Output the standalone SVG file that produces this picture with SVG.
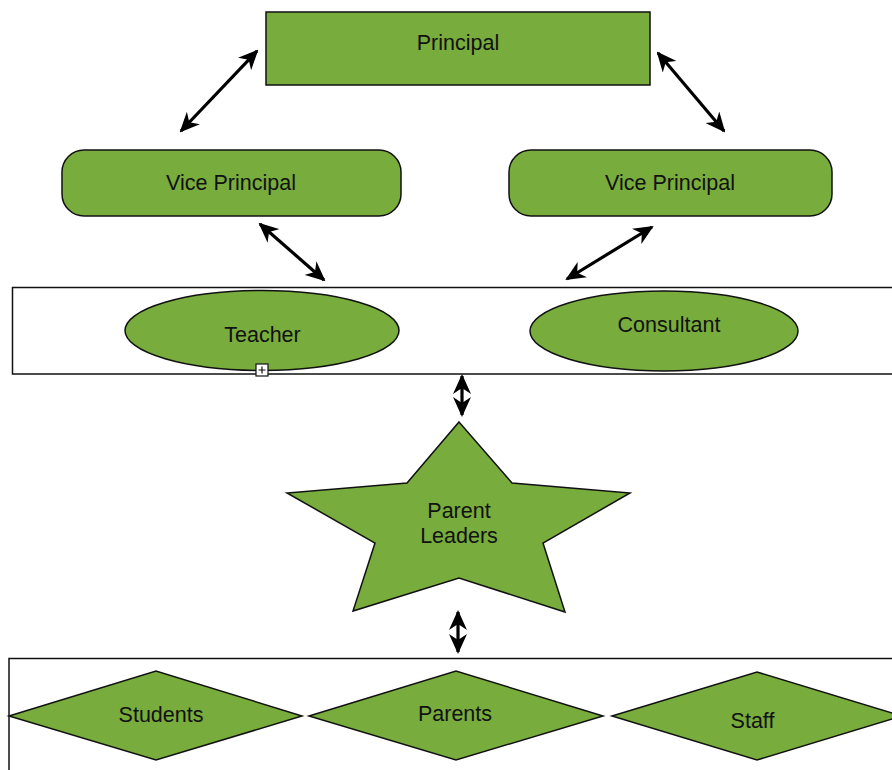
<svg xmlns="http://www.w3.org/2000/svg" width="892" height="770" viewBox="0 0 892 770">
<defs>
<style>
.shape{fill:#78ac3c;stroke:#111;stroke-width:1.5}
.box{fill:#fff;stroke:#111;stroke-width:1.5}
.lbl{font-family:"Liberation Sans",Arial,sans-serif;font-size:21.5px;fill:#111;text-anchor:middle}
.conn{stroke:#000;stroke-width:3.2;fill:none;marker-start:url(#ah);marker-end:url(#ah)}
</style>
<marker id="ah" viewBox="0 0 20 18" refX="18" refY="9" markerWidth="20" markerHeight="18" markerUnits="userSpaceOnUse" orient="auto-start-reverse">
<path d="M0,0 L20,9 L0,18 L6,9 Z" fill="#000"/>
</marker>
</defs>
<rect width="892" height="770" fill="#fff"/>
<g id="containers">
<rect id="row1" class="box" x="12.5" y="287.5" width="890" height="86.5"/>
<rect id="row3" class="box" x="9" y="658.5" width="895" height="130"/>
</g>
<g id="principal">
<rect class="shape" x="266" y="12" width="384" height="73"/>
<text class="lbl" x="458" y="50">Principal</text>
</g>
<g id="vp-left">
<rect class="shape" x="62" y="150" width="339" height="66" rx="22" ry="22"/>
<text class="lbl" x="231" y="190">Vice Principal</text>
</g>
<g id="vp-right">
<rect class="shape" x="509" y="150" width="323" height="66" rx="22" ry="22"/>
<text class="lbl" x="670" y="190">Vice Principal</text>
</g>
<g id="teacher">
<ellipse class="shape" cx="262" cy="330.5" rx="137" ry="40"/>
<text class="lbl" x="262.5" y="342">Teacher</text>
</g>
<g id="plus-icon">
<rect x="256" y="364" width="12" height="12" fill="#fff" stroke="#111" stroke-width="1.2"/>
<path d="M258.5,370 H265.5 M262,366.5 V373.5" stroke="#111" stroke-width="1.2"/>
</g>
<g id="consultant">
<ellipse class="shape" cx="664" cy="331" rx="134" ry="40"/>
<text class="lbl" x="669" y="332">Consultant</text>
</g>
<g id="parent-leaders">
<polygon class="shape" points="459,422 512,483 630,493 543,543 565,612 459,578 353,611 375,543 287,493 407,483"/>
<text class="lbl" x="459" y="518">Parent</text>
<text class="lbl" x="459" y="543">Leaders</text>
</g>
<g id="students">
<polygon class="shape" points="9,716 156,671 302,716 156,760"/>
<text class="lbl" x="161" y="722">Students</text>
</g>
<g id="parents">
<polygon class="shape" points="309,716 456,671 603,716 456,760"/>
<text class="lbl" x="455" y="721">Parents</text>
</g>
<g id="staff">
<polygon class="shape" points="612,716 757,672 902,716 757,760"/>
<text class="lbl" x="752.5" y="728">Staff</text>
</g>
<g id="connectors">
<line class="conn" x1="181" y1="131" x2="257" y2="51"/>
<line class="conn" x1="658" y1="53" x2="724" y2="131"/>
<line class="conn" x1="260" y1="224" x2="324" y2="280"/>
<line class="conn" x1="652" y1="227" x2="567" y2="279"/>
<line class="conn" x1="462" y1="376" x2="462" y2="415"/>
<line class="conn" x1="458" y1="612" x2="458" y2="652"/>
</g>
</svg>
